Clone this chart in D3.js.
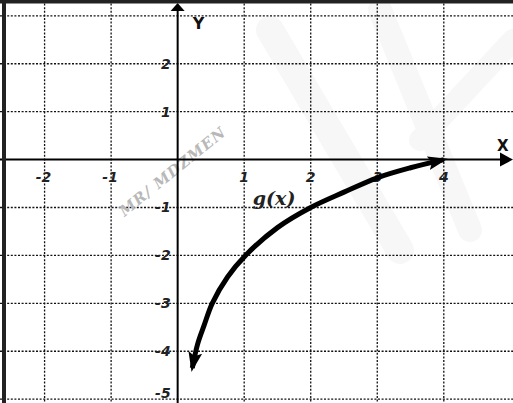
<!DOCTYPE html>
<html>
<head>
<meta charset="utf-8">
<script src="https://cdn.jsdelivr.net/npm/d3@7/dist/d3.min.js"></script>
<style>
html,body{margin:0;padding:0;background:#fff;}
svg{display:block;}
</style>
</head>
<body>
<svg id="chart" width="513" height="403"></svg>
<script>
// ---- data ----
const xGrid = [-2, -1, 1, 2, 3, 4];
const yGrid = [3, 2, 1, -1, -2, -3, -4, -5];
const xTickLabels = ["-2", "-1", "1", "2", "3", "4"];
const yTickValues = [2, 1, -1, -2, -3, -4, -5];
const yTickLabels = ["2", "1", "-1", "-2", "-3", "-4", "-5"];
const curveX = [0.22, 0.3, 0.4, 0.52, 0.75, 1.02, 1.5, 2, 2.5, 3, 3.5, 4];
const curveY = [-4.35, -3.85, -3.45, -3.0, -2.45, -2.0, -1.42, -1.0, -0.68, -0.38, -0.17, 0];
const curveLabel = "g(x)";
const watermark = "MR/ MDZMEN";

const W = 513, H = 403;
const svg = d3.select("#chart");
const x = d3.scaleLinear().domain([-2.67, 5.04]).range([0, W]);
const y = d3.scaleLinear().domain([3.33, -5.08]).range([0, H]);

// very faint background watermark shapes
const wm = svg.append("g").attr("fill", "none").attr("stroke", "#f7f7f7").attr("stroke-linecap", "round");
wm.append("path").attr("d", "M270,30 L400,250").attr("stroke-width", 28);
wm.append("path").attr("d", "M380,10 L470,230").attr("stroke-width", 24);
wm.append("path").attr("d", "M420,140 L513,40").attr("stroke-width", 22);

// grid
const grid = svg.append("g").attr("stroke", "#111").attr("stroke-width", 1.3).attr("stroke-dasharray", "2,1.6");
grid.selectAll("line.v").data(xGrid).join("line").attr("class", "v")
  .attr("x1", d => x(d)).attr("x2", d => x(d)).attr("y1", 0).attr("y2", H);
grid.selectAll("line.h").data(yGrid).join("line").attr("class", "h")
  .attr("x1", 0).attr("x2", W).attr("y1", d => y(d)).attr("y2", d => y(d));

// watermark text
svg.append("text")
  .attr("transform", `translate(${x(-0.8)},${y(-1.2)}) rotate(-39)`)
  .attr("font-family", "DejaVu Serif").attr("font-style", "italic").attr("font-weight", "bold")
  .attr("font-size", 15).attr("fill", "#b8b8b8").attr("letter-spacing", 1)
  .text(watermark);

// axes
const axes = svg.append("g").attr("stroke", "#000").attr("stroke-width", 2);
axes.append("line").attr("x1", 0).attr("x2", W - 8).attr("y1", y(0)).attr("y2", y(0));
axes.append("line").attr("x1", x(0)).attr("x2", x(0)).attr("y1", 8).attr("y2", H);
// axis arrowheads
svg.append("path").attr("fill", "#000")
  .attr("d", `M${W},${y(0)} L${W - 13},${y(0) - 7} L${W - 13},${y(0) + 7} Z`);
svg.append("path").attr("fill", "#000")
  .attr("d", `M${x(0)},3 L${x(0) - 7},11 L${x(0) + 7},11 Z`);

// border
svg.append("line").attr("x1", 0).attr("x2", W).attr("y1", 1.5).attr("y2", 1.5).attr("stroke", "#222").attr("stroke-width", 4);
svg.append("line").attr("x1", 4).attr("x2", 4).attr("y1", 0).attr("y2", H).attr("stroke", "#222").attr("stroke-width", 4);

// tick labels
const tickFont = "DejaVu Sans";
svg.append("g").selectAll("text").data(xGrid).join("text")
  .attr("x", d => x(d) + (d < 0 ? -1 : 0)).attr("y", y(0) + 22)
  .attr("text-anchor", "middle").attr("font-family", tickFont).attr("font-weight", "bold")
  .attr("font-style", "italic").attr("font-size", 14).attr("fill", "#222")
  .text((d, i) => xTickLabels[i]);
svg.append("g").selectAll("text").data(yTickValues).join("text")
  .attr("x", x(0) - 7).attr("y", d => Math.min(y(d) + 5, H - 5))
  .attr("text-anchor", "end").attr("font-family", tickFont).attr("font-weight", "bold")
  .attr("font-style", "italic").attr("font-size", 14).attr("fill", "#222")
  .text((d, i) => yTickLabels[i]);

// axis names
svg.append("text").attr("x", x(0) + 15).attr("y", 29).attr("font-family", tickFont)
  .attr("font-weight", "bold").attr("font-size", 16).attr("fill", "#111").text("Y");
svg.append("text").attr("x", W - 16).attr("y", 151).attr("font-family", tickFont)
  .attr("font-weight", "bold").attr("font-size", 15).attr("fill", "#111").text("X");

// curve
const pts = curveX.map((d, i) => [x(d), y(curveY[i])]);
svg.append("defs").append("marker")
  .attr("id", "ah").attr("viewBox", "0 0 20 14").attr("refX", 16).attr("refY", 7)
  .attr("markerWidth", 20).attr("markerHeight", 14).attr("markerUnits", "userSpaceOnUse")
  .attr("orient", "auto-start-reverse")
  .append("path").attr("d", "M0,0 L20,7 L0,14 L4,7 Z").attr("fill", "#000");
svg.append("path")
  .datum(pts)
  .attr("d", d3.line().curve(d3.curveCatmullRom.alpha(0.5)))
  .attr("fill", "none").attr("stroke", "#000").attr("stroke-width", 5)
  .attr("marker-start", "url(#ah)").attr("marker-end", "url(#ah)");

// curve label
svg.append("text").attr("x", x(1.45)).attr("y", y(-0.95))
  .attr("text-anchor", "middle").attr("font-family", "DejaVu Serif").attr("font-style", "italic")
  .attr("font-weight", "bold").attr("font-size", 19).attr("fill", "#222").text(curveLabel);
</script>
</body>
</html>
